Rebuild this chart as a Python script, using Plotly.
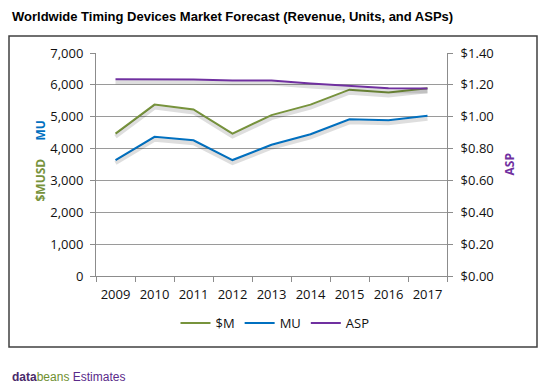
import plotly.graph_objects as go

years = ["2009", "2010", "2011", "2012", "2013", "2014", "2015", "2016", "2017"]
revenue_musd = [4470, 5380, 5230, 4470, 5050, 5380, 5850, 5760, 5890]
units_mu = [3640, 4370, 4260, 3640, 4120, 4450, 4920, 4890, 5030]
asp_usd = [1.235, 1.235, 1.233, 1.227, 1.227, 1.208, 1.193, 1.179, 1.177]

left_ticks = [0, 1000, 2000, 3000, 4000, 5000, 6000, 7000]
left_tick_labels = ["0", "1,000", "2,000", "3,000", "4,000", "5,000", "6,000", "7,000"]
right_ticks = [0, 0.2, 0.4, 0.6, 0.8, 1.0, 1.2, 1.4]
right_tick_labels = ["$0.00", "$0.20", "$0.40", "$0.60", "$0.80", "$1.00", "$1.20", "$1.40"]

GREEN = "#77933C"
BLUE = "#0070C0"
PURPLE = "#7030A0"
SHADOW = "rgba(0,0,0,0.13)"
FONT = "Open Sans"
AXIS = "#8c8c8c"
TXT = "#111111"

# page has an 8px body margin, so the figure is drawn 8px smaller and offset
OFF = 8
PL, PT, PW, PH = 96, 53, 351, 223  # plot area in reference pixels


def px(x):
    return (x - PL) / PW


def py(y):
    return (PT + PH - y) / PH


fig = go.Figure()

# soft drop shadows (same data, drawn on slightly offset overlay axes)
fig.add_trace(go.Scatter(x=years, y=revenue_musd, mode="lines", yaxis="y3",
                         line=dict(color=SHADOW, width=4), showlegend=False, hoverinfo="skip"))
fig.add_trace(go.Scatter(x=years, y=units_mu, mode="lines", yaxis="y3",
                         line=dict(color=SHADOW, width=4), showlegend=False, hoverinfo="skip"))
fig.add_trace(go.Scatter(x=years, y=asp_usd, mode="lines", yaxis="y4",
                         line=dict(color=SHADOW, width=4), showlegend=False, hoverinfo="skip"))

fig.add_trace(go.Scatter(x=years, y=revenue_musd, mode="lines", name="$M",
                         line=dict(color=GREEN, width=2)))
fig.add_trace(go.Scatter(x=years, y=units_mu, mode="lines", name="MU",
                         line=dict(color=BLUE, width=2)))
fig.add_trace(go.Scatter(x=years, y=asp_usd, mode="lines", name="ASP", yaxis="y2",
                         line=dict(color=PURPLE, width=2)))

shift_l = 7000 * 3 / PH
shift_r = 1.4 * 3 / PH

W, H = 547 - OFF, 390 - OFF
fig.update_layout(
    width=W, height=H,
    margin=dict(l=PL - OFF, r=W - (PL - OFF) - PW, t=PT - OFF, b=H - (PT - OFF) - PH),
    paper_bgcolor="white", plot_bgcolor="white",
    font=dict(family=FONT, size=13, color=TXT),
    showlegend=True,
    legend=dict(orientation="h", x=px(275), xanchor="center", y=py(323), yanchor="middle",
                font=dict(family=FONT, size=13, color=TXT),
                itemwidth=30, tracegroupgap=0, bgcolor="rgba(0,0,0,0)"),
    xaxis=dict(type="category", tickson="boundaries", ticks="outside", ticklen=5,
               tickcolor=AXIS, showline=True, linecolor=AXIS, linewidth=1,
               showgrid=False, ticklabelstandoff=6, tickangle=0,
               tickfont=dict(family=FONT, size=13, color=TXT),
               range=[-0.5, 8.5], fixedrange=True),
    yaxis=dict(range=[0, 7000], tickvals=left_ticks, ticktext=left_tick_labels,
               ticks="outside", ticklen=5, tickcolor=AXIS,
               showline=True, linecolor=AXIS, linewidth=1,
               showgrid=True, gridcolor="#9a9a9a", gridwidth=1,
               zeroline=False, ticklabelstandoff=4,
               tickfont=dict(family=FONT, size=13, color=TXT)),
    yaxis2=dict(range=[0, 1.4], tickvals=right_ticks, ticktext=right_tick_labels,
                overlaying="y", side="right", ticks="outside", ticklen=5, tickcolor=AXIS,
                showline=True, linecolor=AXIS, linewidth=1,
                showgrid=False, zeroline=False, ticklabelstandoff=5,
                tickfont=dict(family=FONT, size=13, color=TXT)),
    yaxis3=dict(range=[shift_l, 7000 + shift_l], overlaying="y", visible=False),
    yaxis4=dict(range=[shift_r, 1.4 + shift_r], overlaying="y", visible=False),
)

# chart frame
fig.add_shape(type="rect", xref="paper", yref="paper",
              x0=px(9), x1=px(537), y0=py(347), y1=py(36),
              line=dict(color="#404040", width=1.5), fillcolor="rgba(0,0,0,0)", layer="above")

# title
fig.add_annotation(text="<b>Worldwide Timing Devices Market Forecast (Revenue, Units, and ASPs)</b>",
                   xref="paper", yref="paper", x=px(10), y=py(17),
                   xanchor="left", yanchor="middle", showarrow=False,
                   font=dict(family="Liberation Sans", size=13, color="black"))

# left axis titles
fig.add_annotation(text="<b>$MUSD</b>", xref="paper", yref="paper",
                   x=px(29), y=py(180), textangle=-90,
                   showarrow=False, font=dict(family=FONT, size=12, color=GREEN))
fig.add_annotation(text="<b>MU</b>", xref="paper", yref="paper",
                   x=px(29), y=py(131), textangle=-90,
                   showarrow=False, font=dict(family=FONT, size=12, color=BLUE))
# right axis title
fig.add_annotation(text="<b>ASP</b>", xref="paper", yref="paper",
                   x=px(519), y=py(165), textangle=-90,
                   showarrow=False, font=dict(family=FONT, size=12, color=PURPLE))

# source note
fig.add_annotation(text="<b><span style='color:#4a2a6a'>data</span></b><span style='color:#6f8f2f'>beans</span> <span style='color:#5a2a8a'>Estimates</span>",
                   xref="paper", yref="paper", x=px(10), y=py(377),
                   xanchor="left", yanchor="middle", showarrow=False,
                   font=dict(family="Liberation Sans", size=12))

fig.write_html("out.html")
